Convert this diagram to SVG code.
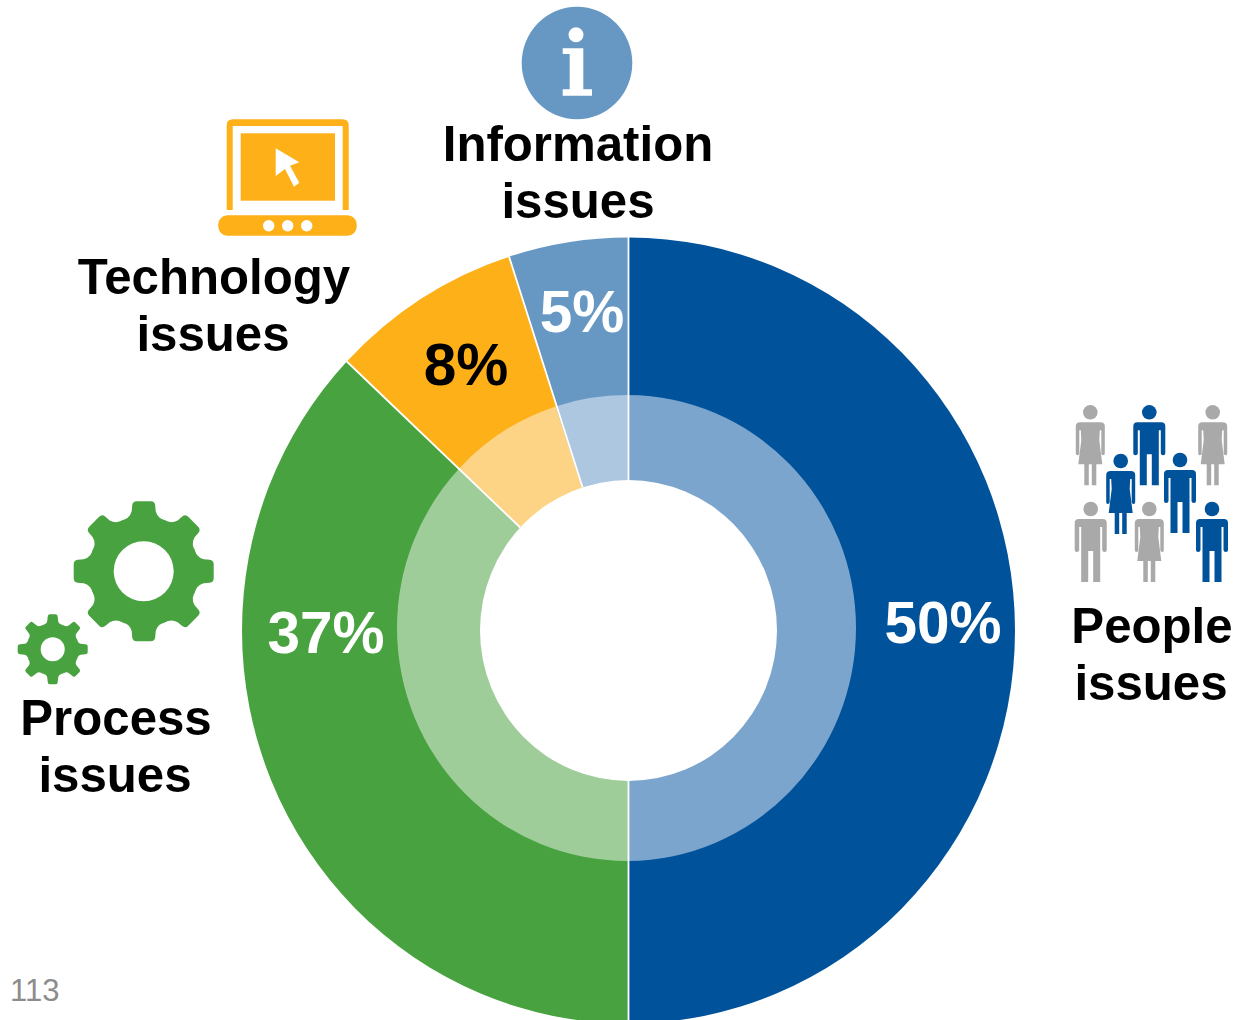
<svg xmlns="http://www.w3.org/2000/svg" width="1243" height="1020" viewBox="0 0 1243 1020">
<style>
.lab{font-family:"Liberation Sans",Arial,sans-serif;font-weight:700;font-size:49.200px;fill:#000;text-anchor:middle}
.pct{font-family:"Liberation Sans",Arial,sans-serif;font-weight:700;font-size:58.500px;fill:#fff;text-anchor:middle}
.blue{fill:#00529b}.grey{fill:#a9a9a9}.green{fill:#48a23f}.orange{fill:#fdb018}
.sep{stroke:#fff;stroke-width:1.800;fill:none}
</style>
<defs>
<path id="man" d="M-12,10H12Q16,10 16,14V41Q16,43 14,43Q11.500,43 11.500,41V18H9.500V73H2.500V42H-2.500V73H-9.500V18H-11.500V41Q-11.500,43 -14,43Q-16,43 -16,41V14Q-16,10 -12,10Z"/>
<path id="woman" d="M-10,10H10Q14.500,10 14.500,14V41Q14.500,43 13,43Q11,43 11,41V18H9.500L9,28L12,52H6V73H1.500V52H-1.500V73H-6V52H-12L-9,28L-9.500,18H-11V41Q-11,43 -13,43Q-14.500,43 -14.500,41V14Q-14.500,10 -10,10Z"/>
<path id="tb" d="M-24,-50Q-14,-52 -12,-60L-11.500,-66Q-11,-70 -7,-70H7Q11,-70 11.500,-66L12,-60Q14,-52 24,-50Z"/>
<path id="ts" d="M-11,-24Q-6,-25 -5.500,-28L-5,-32.500Q-5,-35 -3,-35H3Q5,-35 5,-32.500L5.500,-28Q6,-25 11,-24Z"/>
<g id="gearBig"><circle r="55"/><use href="#tb"/><use href="#tb" transform="rotate(45)"/><use href="#tb" transform="rotate(90)"/><use href="#tb" transform="rotate(135)"/><use href="#tb" transform="rotate(180)"/><use href="#tb" transform="rotate(225)"/><use href="#tb" transform="rotate(270)"/><use href="#tb" transform="rotate(315)"/></g>
<g id="gearSm"><circle r="26"/><use href="#ts"/><use href="#ts" transform="rotate(45)"/><use href="#ts" transform="rotate(90)"/><use href="#ts" transform="rotate(135)"/><use href="#ts" transform="rotate(180)"/><use href="#ts" transform="rotate(225)"/><use href="#ts" transform="rotate(270)"/><use href="#ts" transform="rotate(315)"/></g>
</defs>
<rect width="1243" height="1020" fill="#fff"/>
<g id="donut">
<path class="blue" d="M628.500,630.500L628.500,237.500A386.500,393 0 0 1 1015,630.500A386.500,393 0 0 1 628.500,1023.500Z"/>
<path class="green" d="M628.500,630.500L628.500,1023.500A386.500,393 0 0 1 242,630.500A386.500,393 0 0 1 346.800,361.500Z"/>
<path class="orange" d="M628.500,630.500L346.800,361.500A386.500,393 0 0 1 509.100,256.700Z"/>
<path fill="#6798c4" d="M628.500,630.500L509.100,256.700A386.500,393 0 0 1 628.500,237.500Z"/>
<path fill="#7ba5cd" d="M628.500,630.500L628.500,395A229.500,233 0 0 1 856,628A229.500,233 0 0 1 628.500,861Z"/>
<path fill="#9fcd9a" d="M628.500,630.500L628.500,861A229.500,233 0 0 1 397,628A229.500,233 0 0 1 459.200,468.500Z"/>
<path fill="#fdd385" d="M628.500,630.500L459.200,468.500A229.500,233 0 0 1 555.600,406.400Z"/>
<path fill="#aec7e0" d="M628.500,630.500L555.600,406.400A229.500,233 0 0 1 628.500,395Z"/>
<ellipse cx="628.500" cy="630.500" rx="148.500" ry="150.500" fill="#fff"/>
</g>
<g id="separators">
<path class="sep" d="M628.500,237V480M628.500,781V1020M509.100,256.700L582.600,487.400M346.800,361.500L520.200,527.500"/>
</g>
<g id="percent-labels">
<text class="pct" x="943" y="643">50%</text>
<text class="pct" x="326" y="653">37%</text>
<text class="pct" x="466" y="385" style="fill:#000">8%</text>
<text class="pct" x="582" y="332">5%</text>
</g>
<g id="people-issues">
<g class="grey"><use href="#woman" x="1090.300" y="412.300"/><circle cx="1090.300" cy="412.300" r="7.300"/><use href="#woman" x="1212.700" y="412.300"/><circle cx="1212.700" cy="412.300" r="7.300"/><use href="#man" x="1090.700" y="509"/><circle cx="1090.700" cy="509" r="7.300"/><use href="#woman" x="1149.300" y="509"/><circle cx="1149.300" cy="509" r="7.300"/></g>
<g class="blue"><use href="#man" x="1149.300" y="412.300"/><circle cx="1149.300" cy="412.300" r="7.300"/><use href="#man" x="1180" y="460"/><circle cx="1180" cy="460" r="7.300"/><use href="#woman" x="1120.700" y="461"/><circle cx="1120.700" cy="461" r="7.300"/><use href="#man" x="1212" y="509"/><circle cx="1212" cy="509" r="7.300"/></g>
<text class="lab" x="1152" y="643">People</text>
<text class="lab" x="1151" y="700">issues</text>
</g>
<g id="process-issues">
<g class="green"><use href="#gearBig" transform="translate(143.700,571.300)"/><use href="#gearSm" transform="translate(52.700,649.300)"/></g>
<circle cx="143.700" cy="571.300" r="30" fill="#fff"/>
<circle cx="52.700" cy="649.300" r="12" fill="#fff"/>
<text class="lab" x="116" y="735">Process</text>
<text class="lab" x="115" y="792">issues</text>
</g>
<g id="technology-issues">
<path class="orange" d="M233,119.300H342.500Q348.700,119.300 348.700,125.500V210H342.700V126H232.700V210H226.700V125.500Q226.700,119.300 233,119.300Z"/>
<rect class="orange" x="240.700" y="133.300" width="94.300" height="67.400"/>
<path fill="#fff" d="M275.700,148.300L299.300,162.300L290,165.700L299.300,182.700L294,186.700L285,169L275.700,176Z"/>
<rect class="orange" x="218.300" y="215.300" width="138.400" height="20.400" rx="9"/>
<g fill="#fff"><circle cx="268.700" cy="225.700" r="5.700"/><circle cx="287.700" cy="225.700" r="5.700"/><circle cx="306.700" cy="225.700" r="5.700"/></g>
<text class="lab" x="214" y="294">Technology</text>
<text class="lab" x="213" y="351">issues</text>
</g>
<g id="information-issues">
<ellipse cx="577" cy="63" rx="55.300" ry="56.300" fill="#6798c4"/>
<circle cx="576" cy="34.700" r="7.500" fill="#fff"/>
<path fill="#fff" d="M562.700,48.300H583.300V89.300H592V95.700H562.700V89.300H569.700V54H562.700Z"/>
<text class="lab" x="578" y="161">Information</text>
<text class="lab" x="578" y="218">issues</text>
</g>
<text id="page-number" x="10" y="1001" font-family="Liberation Sans, Arial, sans-serif" font-size="31" fill="#8c8c8c">113</text>
</svg>
